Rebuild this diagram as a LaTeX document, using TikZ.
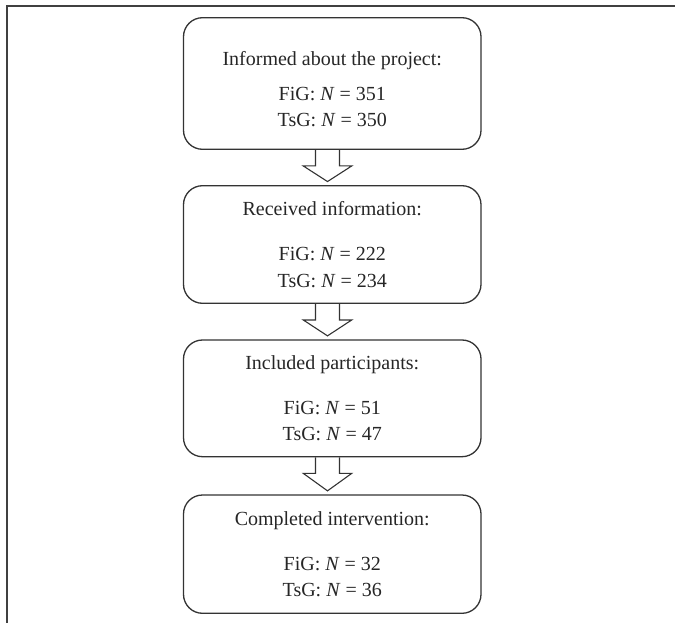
\documentclass[tikz,border=0pt]{standalone}
\usepackage{fontspec}
\setmainfont{Liberation Serif}
\usetikzlibrary{calc}
\tikzset{
  stage/.style={draw=black!80, line width=1.3pt, rounded corners=19pt, minimum width=297.5pt,
    align=center, inner sep=0pt, font=\fontsize{20}{26.7}\selectfont, text=black!85},
  barrow/.style={draw=black!80, line width=1.1pt, line join=miter},
  frameline/.style={draw=black!75, line width=2pt}
}
\newcommand{\blockarr}[2]{%
  \draw[barrow] ($(#1.south)+(-16.75,0)$) -- ++(0,16) -- ++(-12.25,0)
    -- ($(#2.north)+(-4.75,-3.5)$) -- ($(#1.south)+(19.5,16)$) -- ++(-12.25,0)
    -- ($(#1.south)+(7.25,0)$);}
\newcommand{\NN}{\textit{N}}
\begin{document}
\begin{tikzpicture}[x=1pt,y=-1pt]
\useasboundingbox (0,0) rectangle (675,623);
\draw[frameline] (6.5,623) -- (6.5,6.5) -- (675,6.5);
\node[stage, minimum height=131.6pt] (b1) at (332.25,83.5)
  {\rule{0pt}{25pt}Informed about the project:\\[8.3pt] FiG: \NN{} = 351\\ TsG: \NN{} = 350};
\node[stage, minimum height=117.6pt] (b2) at (332.25,244.5)
  {Received information:\\[18.3pt] FiG: \NN{} = 222\\ TsG: \NN{} = 234};
\node[stage, minimum height=116.7pt] (b3) at (332.25,398.35)
  {Included participants:\\[18.3pt] FiG: \NN{} = 51\\ TsG: \NN{} = 47};
\node[stage, minimum height=118.3pt] (b4) at (332.25,554.15)
  {Completed intervention:\\[18.3pt] FiG: \NN{} = 32\\ TsG: \NN{} = 36};
\blockarr{b1}{b2}
\blockarr{b2}{b3}
\blockarr{b3}{b4}
\end{tikzpicture}
\end{document}
